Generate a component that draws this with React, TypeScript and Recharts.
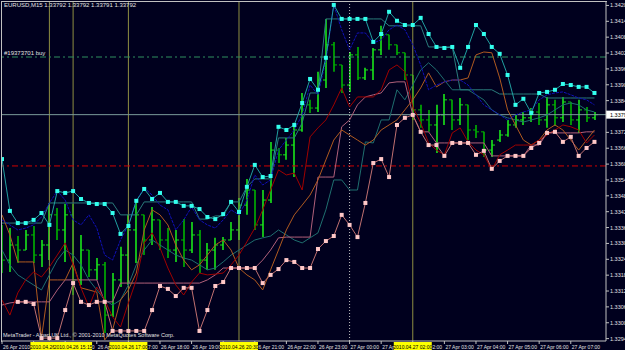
import React from 'react';
import { ComposedChart, Bar, Line, XAxis, YAxis, ReferenceLine } from 'recharts';

// Prices are stored in 1e-5 units (points) and divided by POINT below.
const POINT = 100000;

const highP = [
  133375, 133363, 133333, 133356, 133371, 133318, 133458, 133439, 133454, 133454,
  133337, 133280, 133250, 133235, 133193, 133292, 133413, 133462, 133413, 133443,
  133394, 133363, 133356, 133397, 133386, 133356, 133307, 133326, 133329, 133386,
  133477, 133549, 133507, 133507, 133689, 133666, 133704, 133761, 133874, 133848,
  133954, 134154, 134067, 133980, 134029, 134048, 133969, 134044, 134128, 134094,
  134056, 134026, 133942, 133829, 133810, 133829, 133870, 133848, 133855, 133829,
  133753, 133727, 133696, 133734, 133772, 133791, 133802, 133817, 133836, 133859,
  133848, 133859, 133840, 133848, 133821, 133802,
];
const lowP = [
  133193, 133197, 133231, 133280, 133231, 133216, 133242, 133318, 133235, 133110,
  133148, 133178, 133167, 132966, 133027, 133140, 133148, 133231, 133261, 133299,
  133280, 133250, 133235, 133216, 133269, 133193, 133205, 133205, 133280, 133318,
  133318, 133413, 133356, 133329, 133458, 133609, 133621, 133556, 133727, 133798,
  133802, 133893, 133954, 133874, 133878, 133923, 133923, 133923, 134018, 134037,
  134018, 133923, 133772, 133742, 133727, 133647, 133753, 133734, 133753, 133696,
  133704, 133632, 133632, 133689, 133708, 133742, 133753, 133764, 133753, 133742,
  133749, 133764, 133753, 133723, 133764, 133772,
];
const openP = [
  133318, 133242, 133299, 133280, 133337, 133261, 133299, 133413, 133356, 133413,
  133167, 133280, 133205, 133224, 133034, 133167, 133261, 133356, 133413, 133318,
  133394, 133318, 133280, 133318, 133280, 133337, 133242, 133280, 133299, 133318,
  133356, 133450, 133507, 133375, 133469, 133658, 133640, 133677, 133734, 133829,
  133817, 133923, 134056, 133980, 133904, 134018, 133931, 133961, 134037, 134094,
  134056, 134026, 133942, 133810, 133772, 133753, 133791, 133848, 133772, 133829,
  133734, 133727, 133658, 133696, 133715, 133753, 133772, 133780, 133802, 133772,
  133829, 133780, 133840, 133772, 133810, 133780,
];
const closeP = [
  133242, 133299, 133280, 133337, 133261, 133299, 133413, 133356, 133413, 133167,
  133280, 133205, 133224, 133034, 133167, 133261, 133356, 133413, 133318, 133394,
  133318, 133280, 133318, 133280, 133337, 133242, 133280, 133299, 133318, 133356,
  133450, 133507, 133375, 133469, 133658, 133640, 133677, 133734, 133829, 133817,
  133923, 134056, 133980, 133904, 134018, 133931, 133961, 134037, 134094, 134056,
  134026, 133942, 133810, 133772, 133753, 133791, 133848, 133772, 133829, 133734,
  133727, 133658, 133677, 133715, 133753, 133772, 133780, 133802, 133772, 133829,
  133780, 133840, 133772, 133810, 133780, 133792,
];
const upperMarks = [
  133624, 133428, 133382, 133382, 133394, 133420, 133375, 133503, 133496, 133503,
  133473, 133458, 133454, 133454, 133420, 133341, 133371, 133466, 133511, 133473,
  133496, 133462, 133462, 133447, 133447, 133435, 133405, 133397, 133416, 133462,
  133424, 133519, 133602, 133556, 133560, 133746, 133734, 133753, 133836, 133927,
  133886, 134007, 134207, 134154, 134154, 134154, 134154, 134067, 134097, 134181,
  134147, 134131, 134131, 134158, 134097, 134048, 134044, 134048, 133969, 134048,
  134131, 134097, 134048, 134022, 133942, 133829, 133852, 133798, 133874, 133878,
  133886, 133908, 133904, 133897, 133897, 133874,
];
const lowerMarks: (number | null)[] = [
  null, null, 133084, 133084, 133076, 132947, 132947, 132947, 133053, 133155,
  133084, 133072, 133084, 133084, 132974, 132974, 132974, 132974, 132974, 133053,
  133144, 133133, 133106, 133137, 133137, 132974, 133053, 133144, 133159, 133212,
  133212, 133212, 133212, 133155, 133186, 133208, 133242, 133235, 133212, 133212,
  133284, 133314, 133333, 133413, 133375, 133329, 133458, 133609, 133624, 133556,
  133753, 133780, 133791, 133727, 133677, 133677, 133636, 133685, 133685, 133685,
  133640, 133655, 133587, 133617, 133636, 133636, 133636, 133666, 133685, 133723,
  133727, 133689, 133708, 133636, 133666, 133689,
];
const blueLine = [
  133394, 133375, 133356, 133363, 133375, 133405, 133458, 133503, 133469, 133394,
  133375, 133413, 133363, 133261, 133242, 133318, 133375, 133466, 133515, 133488,
  133450, 133432, 133356, 133394, 133443, 133394, 133375, 133363, 133394, 133432,
  133413, 133469, 133564, 133526, 133545, 133658, 133696, 133734, 133791, 133904,
  133867, 133999, 134207, 134113, 134037, 134101, 134101, 134063, 134075, 134113,
  134131, 134113, 134056, 133980, 133886, 133904, 133916, 133923, 133923, 133904,
  133867, 133829, 133810, 133791, 133772, 133791, 133802, 133810, 133848, 133867,
  133874, 133878, 133867, 133855, 133848, 133829,
];
const redLine = [
  133091, 133034, 133118, 133167, 133197, 133178, 133216, 133261, 133307, 133224,
  133137, 133065, 133140, 133091, 133027, 132989, 133080, 133167, 133307, 133345,
  133288, 133212, 133148, 133110, 133159, 133193, 133186, 133189, 133193, 133224,
  133261, 133311, 133363, 133432, 133507, 133583, 133564, 133571, 133507, 133708,
  133742, 133772, 133829, 133893, 133821, 133859, 133859, 133859, 133886, 133961,
  133980, 133954, 133821, 133761, 133685, 133658, 133640, 133723, 133742, 133689,
  133658, 133640, 133583, 133640, 133658, 133677, 133677, 133677, 133696, 133715,
  133734, 133753, 133746, 133734, 133685, 133715,
];
const brownLine = [
  133413, 133337, 133235, 133235, 133235, 132947, 133167, 133167, 133167, 133231,
  133137, 133129, 133121, 132940, 132978, 133091, 133129, 133193, 133356, 133432,
  133413, 133375, 133299, 133242, 133205, 133224, 133261, 133299, 133318, 133280,
  133212, 133186, 133167, 133129, 133205, 133280, 133356, 133413, 133450, 133488,
  133545, 133621, 133696, 133734, 133715, 133696, 133677, 133696, 133734, 133753,
  133772, 133810, 133848, 133893, 133950, 133897, 133916, 133923, 133923, 133931,
  134018, 134029, 134026, 133931, 133810, 133753, 133696, 133677, 133696, 133734,
  133753, 133734, 133696, 133658, 133696, 133734,
];
const mauveLine = [
  133072, 133080, 133084, 133084, 133084, 133084, 133084, 133129, 133167, 133167,
  133167, 133167, 133167, 133084, 133084, 133155, 133155, 133155, 133155, 133155,
  133155, 133155, 133155, 133155, 133155, 133155, 133167, 133186, 133212, 133212,
  133212, 133212, 133212, 133242, 133280, 133326, 133329, 133329, 133329, 133329,
  133556, 133556, 133556, 133746, 133772, 133829, 133859, 133867, 133874, 133912,
  133916, 133916, 133791, 133727, 133727, 133685, 133685, 133685, 133685, 133685,
  133685, 133685, 133636, 133636, 133636, 133636, 133636, 133677, 133677, 133723,
  133723, 133723, 133723, 133723, 133727, 133727,
];
const tealMid = [
  133280, 133224, 133186, 133167, 133148, 133129, 133186, 133242, 133280, 133261,
  133224, 133167, 133129, 133091, 133072, 133091, 133148, 133224, 133280, 133318,
  133299, 133280, 133261, 133250, 133242, 133224, 133205, 133212, 133235, 133261,
  133280, 133299, 133318, 133326, 133333, 133356, 133337, 133318, 133307, 133326,
  133345, 133432, 133545, 133545, 133507, 133507, 133689, 133685, 133772, 133772,
  133886, 133848, 133904, 133961, 133988, 133961, 133923, 133886, 133886, 133886,
  133867, 133848, 133810, 133791, 133780, 133772, 133764, 133772, 133780, 133791,
  133810, 133829, 133836, 133829, 133810, 133802,
];
const tealStep = [
  133382, 133382, 133382, 133382, 133382, 133382, 133458, 133458, 133458, 133458,
  133458, 133458, 133458, 133458, 133458, 133413, 133413, 133413, 133462, 133462,
  133462, 133462, 133462, 133462, 133462, 133397, 133397, 133409, 133409, 133462,
  133462, 133519, 133549, 133549, 133549, 133704, 133704, 133704, 133761, 133874,
  133874, 134154, 134154, 134154, 134154, 134154, 134154, 134154, 134154, 134128,
  134128, 134128, 134128, 134128, 134048, 134048, 134048, 134048, 133886, 133886,
  133886, 133886, 133886, 133870, 133870, 133870, 133870, 133870, 133870, 133855,
  133855, 133855, 133855, 133855, 133855, 133855,
];

// Axis labels
const priceTicks = [
  1.34205, 1.34145, 1.34085, 1.34025, 1.33965, 1.33905, 1.33845, 1.33725, 1.33665,
  1.33605, 1.33545, 1.33485, 1.33425, 1.33365, 1.33305, 1.33245, 1.33185, 1.33125,
  1.33065, 1.33005, 1.32945,
];
const hourTicks = [0, 4, 8, 12, 16, 20, 24, 28, 32, 36, 40, 44, 48, 52, 56, 60, 64, 68, 72];
const hourLabels = [
  '26 Apr 2010', '26 Apr 14:00', '26 Apr 15:00', '26 Apr 16:00', '26 Apr 17:00',
  '26 Apr 18:00', '26 Apr 19:00', '26 Apr 20:00', '26 Apr 21:00', '26 Apr 22:00',
  '26 Apr 23:00', '27 Apr 00:00', '27 Apr 01:00', '27 Apr 02:00', '27 Apr 03:00',
  '27 Apr 04:00', '27 Apr 05:00', '27 Apr 06:00', '27 Apr 07:00',
];
const vlineTicks = [6, 9, 16, 30, 52];
const vlineLabels = [
  '2010.04.26 14:30', '2010.04.26 15:15', '2010.04.26 17:00', '2010.04.26 20:30', '2010.04.27 02:00',
];
const daySeparator = 44;
const buyPrice = 1.3401;
const stopPrice = 1.33598;
const bidPrice = 1.33792;

const data = highP.map((h, i) => ({
  i,
  range: [lowP[i] / POINT, h / POINT],
  high: h / POINT,
  low: lowP[i] / POINT,
  open: openP[i] / POINT,
  close: closeP[i] / POINT,
  upper: upperMarks[i] / POINT,
  lower: lowerMarks[i] == null ? null : (lowerMarks[i] as number) / POINT,
  blue: blueLine[i] / POINT,
  red: redLine[i] / POINT,
  brown: brownLine[i] / POINT,
  mauve: mauveLine[i] / POINT,
  tealMid: tealMid[i] / POINT,
  tealStep: tealStep[i] / POINT,
}));

const FONT = 'Liberation Sans, Arial, sans-serif';

const OhlcShape = (props: any) => {
  const { x, y, width, height, payload } = props;
  if (x == null || y == null || !payload) return <g />;
  const top = Math.min(y, y + height);
  const h = Math.abs(height);
  const cx = Math.round(x + width / 2);
  const span = payload.high - payload.low || 1e-9;
  const yOpen = top + ((payload.high - payload.open) / span) * h;
  const yClose = top + ((payload.high - payload.close) / span) * h;
  const up = payload.close >= payload.open;
  const color = up ? '#19e619' : '#00b400';
  return (
    <g>
      <line x1={cx} x2={cx} y1={top} y2={top + h} stroke={color} strokeWidth={1.6} />
      <line x1={cx - 3} x2={cx} y1={yOpen} y2={yOpen} stroke={color} strokeWidth={1} />
      <line x1={cx} x2={cx + 3} y1={yClose} y2={yClose} stroke={color} strokeWidth={1} />
    </g>
  );
};

const makeSquare = (color: string) => (props: any) => {
  const { cx, cy, index } = props;
  if (cx == null || cy == null || Number.isNaN(cy)) return <g key={`n${index}`} />;
  return <rect key={`d${index}`} x={cx - 2} y={cy - 2} width={4} height={4} fill={color} />;
};

const PriceTick = (props: any) => {
  const { y, payload } = props;
  return (
    <g>
      <line x1={606} x2={609} y1={y} y2={y} stroke="#c0c0c0" />
      <text x={610} y={y + 2} fill="#e0e0e0" fontSize={5.5} fontFamily={FONT}>
        {Number(payload.value).toFixed(5)}
      </text>
    </g>
  );
};

const TimeTick = (props: any) => {
  const { x, index } = props;
  if (index >= hourTicks.length) {
    const label = vlineLabels[index - hourTicks.length];
    return (
      <g>
        <rect x={x - 19} y={342} width={38} height={8} fill="#ffff00" />
        <text x={x} y={348.5} textAnchor="middle" fill="#000000" fontSize={5} fontFamily={FONT}>
          {label}
        </text>
      </g>
    );
  }
  return (
    <g>
      <line x1={x} x2={x} y1={341} y2={344} stroke="#c0c0c0" />
      <text x={x + 1} y={348.5} fill="#e0e0e0" fontSize={5} fontFamily={FONT}>
        {hourLabels[index]}
      </text>
    </g>
  );
};

const BidLabel = (props: any) => {
  const vb = props.viewBox || {};
  const bx = (vb.x || 0) + (vb.width || 0);
  const by = vb.y || 0;
  return (
    <g>
      <rect x={bx} y={by - 4} width={19} height={8} fill="#ffffff" />
      <text x={bx + 4} y={by + 2} fill="#000000" fontSize={5.5} fontFamily={FONT}>
        {bidPrice.toFixed(5)}
      </text>
    </g>
  );
};

export default function App() {
  return (
    <div
      style={{
        position: 'absolute',
        left: 0,
        top: 0,
        width: 625,
        height: 350,
        background: '#00001e',
        overflow: 'hidden',
        fontFamily: FONT,
      }}
    >
      <ComposedChart
        width={625}
        height={350}
        data={data}
        margin={{ top: 2, right: 0, bottom: 0, left: 2 }}
      >
        <XAxis
          dataKey="i"
          type="number"
          domain={[0, 76.46]}
          allowDataOverflow
          ticks={[...hourTicks, ...vlineTicks]}
          interval={0}
          height={9}
          tick={<TimeTick />}
          tickLine={false}
          axisLine={{ stroke: '#c0c0c0' }}
        />
        <YAxis
          orientation="right"
          width={19}
          domain={[1.32936, 1.34218]}
          allowDataOverflow
          ticks={priceTicks}
          interval={0}
          tick={<PriceTick />}
          tickLine={false}
          axisLine={{ stroke: '#c0c0c0' }}
        />
        {vlineTicks.map((v) => (
          <ReferenceLine key={`v${v}`} x={v} stroke="#8e8e42" strokeWidth={1} />
        ))}
        <ReferenceLine x={daySeparator} stroke="#c0c0c0" strokeDasharray="1 2" />
        <ReferenceLine y={buyPrice} stroke="#2f8f5f" strokeDasharray="6 3 2 3" />
        <ReferenceLine y={stopPrice} stroke="#d00000" strokeDasharray="6 3 2 3" />
        <ReferenceLine y={bidPrice} stroke="#7a9a9a" label={<BidLabel />} />
        <Bar dataKey="range" barSize={6} shape={<OhlcShape />} isAnimationActive={false} />
        <Line type="linear" dataKey="tealMid" stroke="#1f6f6f" strokeWidth={1} dot={false} isAnimationActive={false} />
        <Line type="linear" dataKey="tealStep" stroke="#2a7c7c" strokeWidth={1} dot={false} isAnimationActive={false} />
        <Line type="linear" dataKey="mauve" stroke="#b0607a" strokeWidth={1} dot={false} isAnimationActive={false} />
        <Line type="linear" dataKey="brown" stroke="#b05a20" strokeWidth={1} dot={false} isAnimationActive={false} />
        <Line type="linear" dataKey="red" stroke="#a00000" strokeWidth={1} dot={false} isAnimationActive={false} />
        <Line type="linear" dataKey="blue" stroke="#1010b8" strokeWidth={1} strokeDasharray="3 1" dot={false} isAnimationActive={false} />
        <Line type="linear" dataKey="upper" stroke="#20a0a0" strokeWidth={1} dot={makeSquare('#33ffee')} isAnimationActive={false} />
        <Line type="linear" dataKey="lower" stroke="#c07070" strokeWidth={1} dot={makeSquare('#ffc8c8')} isAnimationActive={false} />
      </ComposedChart>
      <div
        style={{
          position: 'absolute',
          left: 1,
          top: 1,
          width: 606,
          height: 341,
          borderTop: '1px solid #c0c0c0',
          borderLeft: '1px solid #c0c0c0',
          boxSizing: 'border-box',
          pointerEvents: 'none',
        }}
      />
      <div style={{ position: 'absolute', left: 4, top: 2, fontSize: 6, color: '#e0e0e0', whiteSpace: 'nowrap' }}>
        EURUSD,M15 1.33792 1.33792 1.33791 1.33792
      </div>
      <div style={{ position: 'absolute', left: 4, top: 50, fontSize: 6, color: '#e0e0e0', whiteSpace: 'nowrap' }}>
        #19373701 buy
      </div>
      <div style={{ position: 'absolute', left: 3, top: 332, fontSize: 5.5, color: '#e0e0e0', whiteSpace: 'nowrap' }}>
        MetaTrader - Alpari UK Ltd., © 2001-2010 MetaQuotes Software Corp.
      </div>
    </div>
  );
}
